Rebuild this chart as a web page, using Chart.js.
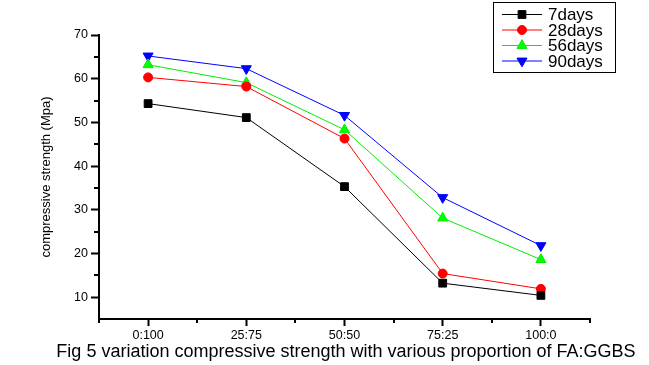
<!DOCTYPE html>
<html>
<head>
<meta charset="utf-8">
<script src="https://cdn.jsdelivr.net/npm/chart.js@4.4.1/dist/chart.umd.min.js"></script>
<style>
  html, body { margin: 0; padding: 0; background: #fff; }
  #wrap { width: 649px; height: 365px; }
</style>
</head>
<body>
<div id="wrap"><canvas id="strengthChart" width="649" height="365"></canvas></div>
<script>
const proportions = ["0:100", "25:75", "50:50", "75:25", "100:0"];
const days7 = [54.3, 51.1, 35.3, 13.2, 10.4];
const days28 = [60.3, 58.2, 46.3, 15.4, 11.9];
const days56 = [63.2, 59.1, 48.3, 28.1, 18.6];
const days90 = [65.2, 62.3, 51.6, 32.8, 21.8];
const yTicks = [10, 20, 30, 40, 50, 60, 70];
const yMinorTicks = [15, 25, 35, 45, 55, 65];
const caption = "Fig 5 variation compressive strength with various proportion of FA:GGBS";

const FONT = "'Liberation Sans', Arial, sans-serif";

// minor ticks, boxed legend and figure caption, drawn like the original plot
const extrasPlugin = {
  id: "extras",
  afterDraw(chart) {
    const { ctx, scales: { x, y } } = chart;
    ctx.save();
    ctx.strokeStyle = "#000";
    ctx.lineWidth = 2;
    ctx.beginPath();
    yMinorTicks.forEach(v => {
      const py = Math.round(y.getPixelForValue(v));
      ctx.moveTo(x.left - 5, py);
      ctx.lineTo(x.left, py);
    });
    for (let i = 0; i <= proportions.length; i++) {
      const px = Math.round(x.getPixelForValue(i - 0.5));
      ctx.moveTo(px, y.bottom);
      ctx.lineTo(px, y.bottom + 4);
    }
    ctx.stroke();

    // legend box
    ctx.lineWidth = 1;
    ctx.strokeRect(493.5, 2.5, 122, 70);
    chart.data.datasets.forEach((ds, i) => {
      const ry = 14.5 + i * 15.5;
      ctx.strokeStyle = ds.borderColor;
      ctx.lineWidth = 1;
      ctx.beginPath();
      ctx.moveTo(502, ry);
      ctx.lineTo(542, ry);
      ctx.stroke();
      ctx.fillStyle = ds.backgroundColor;
      ctx.strokeStyle = ds.borderColor;
      Chart.helpers.drawPoint(ctx, {
        pointStyle: ds.pointStyle,
        radius: ds.pointRadius,
        rotation: ds.pointRotation || 0,
        borderWidth: 1
      }, 522, ry);
      ctx.fillStyle = "#000";
      ctx.font = "17px " + FONT;
      ctx.textBaseline = "middle";
      ctx.textAlign = "left";
      ctx.fillText(ds.label, 548, ry + 1);
    });

    // caption under the plot
    ctx.fillStyle = "#000";
    ctx.font = "18px " + FONT;
    ctx.textAlign = "center";
    ctx.textBaseline = "middle";
    ctx.fillText(caption, 346, 352);
    ctx.restore();
  }
};

const ctx = document.getElementById("strengthChart");

new Chart(ctx, {
  type: "line",
  data: {
    labels: proportions,
    datasets: [
      { label: "7days", data: days7, borderColor: "#000", backgroundColor: "#000",
        pointStyle: "rect", pointRadius: 5.5 },
      { label: "28days", data: days28, borderColor: "#ff0000", backgroundColor: "#ff0000",
        pointStyle: "circle", pointRadius: 4.5 },
      { label: "56days", data: days56, borderColor: "#00ee00", backgroundColor: "#00ff00",
        pointStyle: "triangle", pointRadius: 5.8 },
      { label: "90days", data: days90, borderColor: "#0000ff", backgroundColor: "#0000ff",
        pointStyle: "triangle", pointRotation: 180, pointRadius: 5.8 }
    ].map(ds => Object.assign({ borderWidth: 1, pointBorderWidth: 1, tension: 0, fill: false }, ds))
  },
  options: {
    responsive: false,
    animation: false,
    layout: {
      padding: { left: 0, right: 59, top: 35, bottom: 2 }
    },
    plugins: {
      legend: { display: false },
      tooltip: { enabled: false },
      title: { display: false }
    },
    scales: {
      x: {
        type: "category",
        offset: true,
        afterFit: (scale) => { scale.height = 44; },
        grid: {
          drawOnChartArea: false,
          offset: false,
          tickLength: 7,
          tickWidth: 2,
          tickColor: "#000"
        },
        border: { color: "#000", width: 2 },
        ticks: {
          color: "#000",
          padding: 2,
          maxRotation: 0,
          font: { family: FONT, size: 12.5 }
        }
      },
      y: {
        min: 5,
        max: 70,
        afterFit: (scale) => { scale.width = 99; },
        afterBuildTicks: (scale) => { scale.ticks = yTicks.map(v => ({ value: v })); },
        grid: {
          drawOnChartArea: false,
          tickLength: 8,
          tickWidth: 2,
          tickColor: "#000"
        },
        border: { color: "#000", width: 2 },
        ticks: {
          color: "#000",
          padding: 3,
          font: { family: FONT, size: 12.5 }
        },
        title: {
          display: true,
          text: "compressive strength (Mpa)",
          color: "#000",
          font: { family: FONT, size: 13 },
          padding: { top: 39, bottom: 0 }
        }
      }
    }
  },
  plugins: [extrasPlugin]
});
</script>
</body>
</html>
